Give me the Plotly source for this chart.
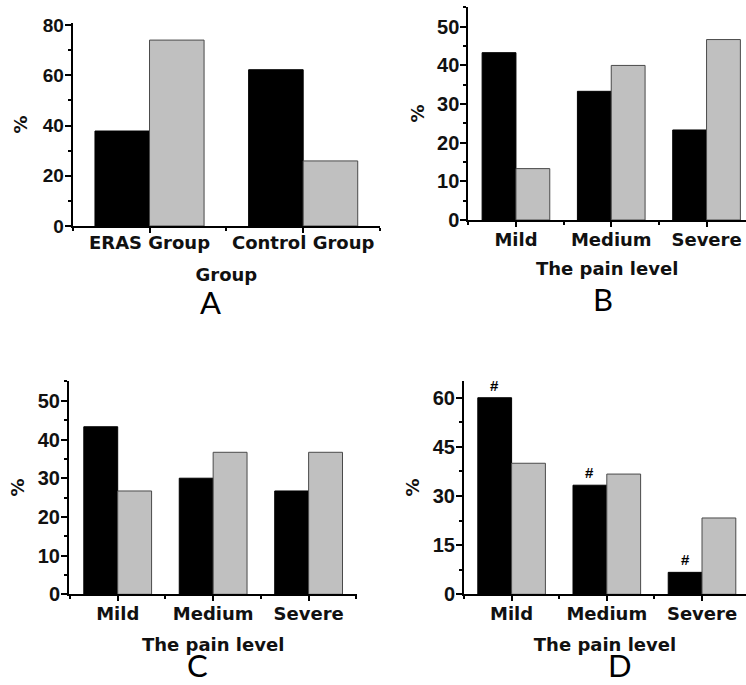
import plotly.graph_objects as go

W, H = 746, 685

# ---------------- data ----------------
group_categories = ["ERAS Group", "Control Group"]
a_black = [37.8, 62.2]
a_gray = [74.0, 25.9]

pain_levels = ["Mild", "Medium", "Severe"]
b_black = [43.3, 33.3, 23.3]
b_gray = [13.3, 40.0, 46.7]

c_black = [43.3, 30.0, 26.7]
c_gray = [26.7, 36.7, 36.7]

d_black = [60.0, 33.3, 6.7]
d_gray = [40.0, 36.7, 23.3]
d_marks = ["#", "#", "#"]

panel_letters = ["A", "B", "C", "D"]
x_titles = ["Group", "The pain level", "The pain level", "The pain level"]
y_title = "%"

# ---------------- styles ----------------
BLACK = "#000000"
GRAY = "#c0c0c0"
BARGAP = 0.29
TICK_FONT = dict(family="Liberation Sans, Arial, sans-serif", size=20, color="#111111", weight="bold")
CAT_FONT = dict(family="DejaVu Sans, sans-serif", size=18, color="#111111", weight="bold")
LETTER_FONT = dict(family="Lato, Open Sans, sans-serif", size=31, color="#000000")


def px_x(p):
    return p / W


def px_y(p):
    return 1 - p / H


panels = [
    dict(cats=group_categories, black=a_black, gray=a_gray, xd=(72.7, 380), yd=(23, 226),
         xr=[-0.5, 1.5], yr=[0, 80.8], dt=20, mdt=10, tsize=19, xls=-6, xts=17, yts=10),
    dict(cats=pain_levels, black=b_black, gray=b_gray, xd=(468.3, 746), yd=(6.7, 220),
         xr=[-0.5, 2.414], yr=[0, 55.2], dt=10, mdt=5, tsize=20, xls=-3, xts=14, yts=8),
    dict(cats=pain_levels, black=c_black, gray=c_gray, xd=(69, 357.3), yd=(380.7, 594.3),
         xr=[-0.51, 2.51], yr=[0, 55.2], dt=10, mdt=5, tsize=20, xls=-3, xts=15, yts=8),
    dict(cats=pain_levels, black=d_black, gray=d_gray, xd=(464, 746), yd=(380.7, 594.3),
         xr=[-0.5, 2.462], yr=[0, 65.2], dt=15, mdt=7.5, tsize=20, xls=-3, xts=15, yts=8),
]

# (x centre px, y px, y anchor)
letter_pos = [(210, 302, "middle"), (603, 299, "middle"), (197, 685, "bottom"), (620, 685, "bottom")]

fig = go.Figure()
layout = dict(
    template="none",
    width=W, height=H, margin=dict(l=0, r=0, t=0, b=0, pad=0, autoexpand=False),
    paper_bgcolor="white", plot_bgcolor="white",
    barmode="group", bargap=BARGAP, bargroupgap=0,
    showlegend=False, annotations=[],
)

for i, p in enumerate(panels):
    n = "" if i == 0 else str(i + 1)
    xs = list(range(len(p["cats"])))
    fig.add_trace(go.Bar(x=xs, y=p["black"], name="Series 1", xaxis="x" + n, yaxis="y" + n,
                         marker=dict(color=BLACK, line=dict(color=BLACK, width=1))))
    fig.add_trace(go.Bar(x=xs, y=p["gray"], name="Series 2", xaxis="x" + n, yaxis="y" + n,
                         marker=dict(color=GRAY, line=dict(color="#4a4a4a", width=1))))

    layout["xaxis" + n] = dict(
        domain=[px_x(p["xd"][0]), px_x(p["xd"][1])], anchor="y" + n,
        range=p["xr"], tickmode="array", tickvals=xs, ticktext=p["cats"],
        showline=True, linecolor=BLACK, linewidth=2, mirror=False,
        ticks="outside", ticklen=5, tickwidth=1.5, tickcolor=BLACK,
        minor=dict(ticks="outside", tick0=0.5, dtick=1, ticklen=3, tickwidth=1.5, tickcolor=BLACK,
                   showgrid=False),
        showgrid=False, zeroline=False, tickfont=CAT_FONT, ticklabelstandoff=p["xls"],
        title=dict(text=x_titles[i], font=CAT_FONT, standoff=p["xts"]),
        automargin=False, fixedrange=True,
    )
    layout["yaxis" + n] = dict(
        domain=[px_y(p["yd"][1]), px_y(p["yd"][0])], anchor="x" + n,
        range=p["yr"], tickmode="linear", tick0=0, dtick=p["dt"],
        showline=True, linecolor=BLACK, linewidth=2,
        ticks="outside", ticklen=6, tickwidth=1.5, tickcolor=BLACK,
        minor=dict(ticks="outside", dtick=p["mdt"], ticklen=3, tickwidth=1.5, tickcolor=BLACK,
                   showgrid=False),
        showgrid=False, zeroline=False, ticklabelstandoff=-3,
        tickfont=dict(TICK_FONT, size=p["tsize"]),
        title=dict(text=y_title, font=CAT_FONT, standoff=p["yts"]),
        automargin=False, fixedrange=True,
    )

    lx, ly, yanc = letter_pos[i]
    layout["annotations"].append(dict(
        text=panel_letters[i], xref="paper", yref="paper", x=px_x(lx), y=px_y(ly),
        xanchor="center", yanchor=yanc, showarrow=False, borderpad=0, font=LETTER_FONT))

# "#" marks above the black bars of panel D
half_bar = (1 - BARGAP) / 4
for j, (v, m) in enumerate(zip(d_black, d_marks)):
    layout["annotations"].append(dict(
        text=m, xref="x4", yref="y4", x=j - half_bar, y=v, yanchor="bottom",
        yshift=2, showarrow=False,
        font=dict(family="Liberation Sans, Arial, sans-serif", size=15, color=BLACK, weight="bold")))

fig.update_layout(**layout)
fig.write_html(
    "out.html",
    config={"displayModeBar": False, "responsive": False},
    post_script="document.body.style.margin='0';document.body.style.overflow='hidden';",
)
